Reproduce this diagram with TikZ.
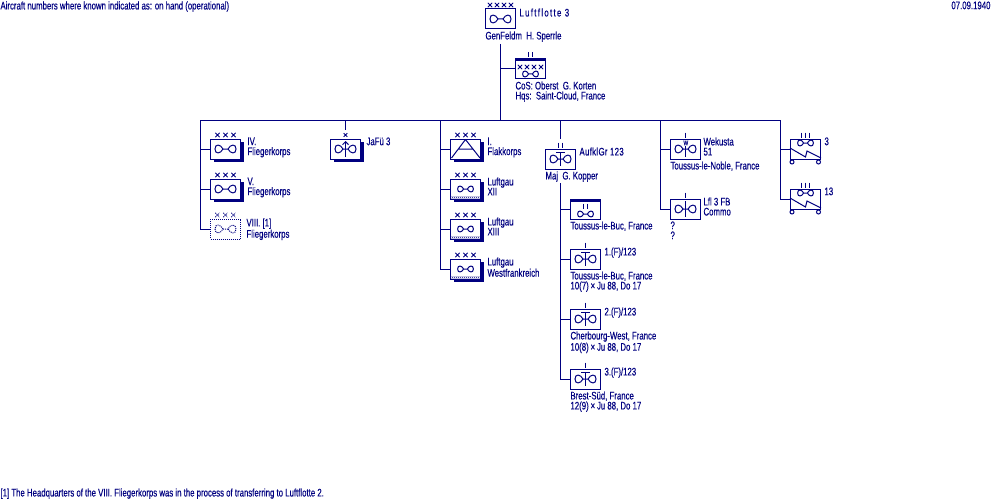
\documentclass[tikz,border=0pt]{standalone}
\usepackage{fontspec}
\setmainfont[FakeStretch=0.71,FakeBold=0.25]{Liberation Sans}
\usepackage{tikz}
\usetikzlibrary{shadows,patterns,arrows.meta}
\definecolor{unitink}{RGB}{0, 0, 128}
\pgfdeclarepatternformonly{checker}{\pgfpointorigin}{\pgfqpoint{2pt}{2pt}}{\pgfqpoint{2pt}{2pt}}{
  \pgfpathrectangle{\pgfpointorigin}{\pgfqpoint{1pt}{1pt}}
  \pgfpathrectangle{\pgfqpoint{1pt}{1pt}}{\pgfqpoint{1pt}{1pt}}
  \pgfusepath{fill}
}
\tikzset{
  unitbox/.style={draw, fill=white, line width=1pt, minimum width=30pt, minimum height=20pt, inner sep=0pt},
  shadebox/.style={unitbox, drop shadow={shadow xshift=3pt, shadow yshift=-3pt, fill=unitink, opacity=1}},
  ghostbox/.style={unitbox, densely dotted},
  lbl/.style={anchor=north west, inner sep=0pt, align=left, font=\fontsize{11}{10}\selectfont},
  pics/wing/.style={code={
    \draw (-2.5,0) .. controls (-5,-5) and (-10.5,-5.5) .. (-10.5,0) .. controls (-10.5,5.5) and (-5,5) .. (-2.5,0) -- (2.5,0)
      .. controls (5,-5) and (10.5,-5.5) .. (10.5,0) .. controls (10.5,5.5) and (5,5) .. (2.5,0);
  }},
  pics/crosses/.style={code={
    \foreach \i in {1,...,#1} {
      \pgfmathsetmacro\xx{(\i-(#1+1)/2)*(#1==4?7:8)}
      \draw[line width=.8pt] (\xx-2.2,-2.2) -- (\xx+2.2,2.2) (\xx-2.2,2.2) -- (\xx+2.2,-2.2);
    }
  }},
  pics/ticks/.style={code={
    \foreach \i in {1,...,#1} {
      \pgfmathsetmacro\xx{(\i-(#1+1)/2)*4}
      \draw (\xx,-2.5) -- (\xx,2.5);
    }
  }},
  pics/recon/.style={code={
    \draw (0,-6.5) -- (0,6.5) (-4.5,-6.5) -- (4.5,-6.5);
  }},
  pics/truck/.style={code={
    \draw (-15.5,-1) -- (0,8) -- (1.5,2) -- (15.5,9);
    \draw (-13.5,13) circle (2) (13,13) circle (2);
  }},
}
\begin{document}
\begin{tikzpicture}[x=1pt, y=-1pt, color=unitink, line width=1pt]
  \useasboundingbox (0,0) rectangle (1000,500);
  \node[lbl] (aircraftnote) at (0,1) {Aircraft numbers where known indicated as: on hand (operational)};
  \node[lbl, anchor=north east] (datenote) at (991,1) {07.09.1940};
  \node[lbl] (footnote) at (0,488) {[1] The Headquarters of the VIII. Fliegerkorps was in the process of transferring to Luftflotte 2.};

  % fleet and staff
  \node[unitbox] (fleet) at (500.5,19) {};
  \pic at (fleet) {wing};
  \pic at (500.5,5) {crosses=4};
  \node[lbl] (fleetlbl) at (519,8) {\addfontfeature{LetterSpace=12}Luftflotte 3};
  \node[lbl] (fleetcmd) at (485,31) {GenFeldm\ \ H. Sperrle};
  \node[unitbox] (staff) at (530.5,69) {};
  \fill ([yshift=-3pt]staff.north west) rectangle (staff.north east);
  \pic at (530.5,55) {ticks=2};
  \pic at (530.5,67) {crosses=4};
  \pic[scale=.75] at (530.5,74) {wing};
  \node[lbl] (stafflbl) at (515,81) {CoS: Oberst\ \ G. Korten\\Hqs:\ \ Saint-Cloud, France};

  % trunk and bus
  \coordinate (trunktop) at (500.5,44);
  \coordinate (trunkend) at (500.5,120);
  \coordinate (busleft) at (200.5,120);
  \coordinate (busjafu) at (345.5,120);
  \coordinate (busflak) at (440.5,120);
  \coordinate (busrecon) at (560.5,120);
  \coordinate (busweather) at (660.5,120);
  \coordinate (busright) at (780.5,120);
  \draw (trunktop) -- (trunkend);
  \draw (trunktop |- staff.west) -- (staff.west);
  \draw (busleft) -- (busright);

  % corps
  \foreach \n/\y/\t in {iv/149/IV., v/189/V.} {
    \node[shadebox] (\n) at (225.5,\y) {};
    \pic at (\n) {wing};
    \pic at (225.5,\y-14) {crosses=3};
    \node[lbl] (\n lbl) at (247,\y-12) {\t\\Fliegerkorps};
    \draw (busleft) |- (\n.west);
  }
  \node[ghostbox] (viii) at (225.5,229) {};
  \pic[densely dotted] at (viii) {wing};
  \pic[densely dotted] at (225.5,215) {crosses=3};
  \node[lbl] (viiilbl) at (246,218) {VIII. [1]\\Fliegerkorps};
  \draw (busleft) |- (viii.west);

  % fighter leader
  \node[shadebox] (jafu) at (345.5,149) {};
  \pic at (jafu) {wing};
  \draw[-{Straight Barb[length=3pt,width=6pt]}] (345.5,157) -- (345.5,141);
  \pic[scale=.8] at (345.5,135) {crosses=1};
  \node[lbl] (jafulbl) at (366,137) {JaFü 3};
  \coordinate (jafutop) at (345.5,130);
  \draw (busjafu) -- (jafutop);

  % flak and air districts
  \node[shadebox] (flak) at (465.5,149) {};
  \draw (flak.north) ++(0,1) -- (451.5,158) (flak.north) ++(0,1) -- (480,158) (458,149) -- (473,149);
  \pic at (465.5,135) {crosses=3};
  \node[lbl] (flaklbl) at (487,137) {I.\\Flakkorps};
  \draw (busflak) |- (flak.west);
  \foreach \n/\y/\t in {gaua/189/XII, gaub/229/XIII, gauc/269/Westfrankreich} {
    \node[shadebox] (\n) at (465.5,\y) {};
    \fill[pattern=checker, pattern color=unitink] ([yshift=3.5pt]\n.south west) rectangle (\n.south east);
    \pic[scale=.75] at (465.5,\y) {wing};
    \pic at (465.5,\y-14) {crosses=3};
    \node[lbl] (\n lbl) at (487,\y-12) {Luftgau\\\t};
    \draw (busflak) |- (\n.west);
  }

  % reconnaissance group
  \node[unitbox] (recon) at (560.5,159) {};
  \pic at (recon) {wing};
  \pic at (recon) {recon};
  \pic at (560.5,145) {ticks=2};
  \node[lbl] (reconlbl) at (579,147) {\addfontfeature{LetterSpace=3}AufklGr 123};
  \node[lbl] (reconcmd) at (545,171) {Maj\ \ G. Kopper};
  \coordinate (recontop) at (560.5,139);
  \coordinate (reconstem) at (560.5,183);
  \draw (busrecon) -- (recontop);
  \node[unitbox] (reconstaff) at (585.5,209) {};
  \fill ([yshift=-3pt]reconstaff.north west) rectangle (reconstaff.north east);
  \pic at (585.5,206) {ticks=2};
  \pic[scale=.75] at (585.5,214) {wing};
  \node[lbl] (reconstafflbl) at (570,221) {Toussus-le-Buc, France};
  \draw (reconstem) |- (reconstaff.west);
  \foreach \n/\y/\t/\p/\c in {sqa/259/1.(F)/Toussus-le-Buc/10(7), sqb/319/2.(F)/Cherbourg-West/10(8), sqc/379/3.(F)/Brest-Süd/12(9)} {
    \node[unitbox] (\n) at (585.5,\y) {};
    \pic at (\n) {wing};
    \pic at (\n) {recon};
    \pic at (585.5,\y-14) {ticks=1};
    \node[lbl] (\n lbl) at (604,\y-12) {\t/123};
    \node[lbl] (\n base) at (570,\y+12) {\p, France\\\c\,×\,Ju 88, Do 17};
    \draw (reconstem) |- (\n.west);
  }

  % weather and courier
  \node[unitbox] (weather) at (685.5,149) {};
  \pic at (weather) {wing};
  \draw (685.5,146) -- (685.5,157);
  \pic at (685.5,135) {ticks=1};
  \node[lbl, font=\fontsize{7}{7}\selectfont] (weathersign) at (683,140) {W};
  \node[lbl] (weatherlbl) at (703,137) {Wekusta\\51};
  \node[lbl] (weatherbase) at (670,161) {Toussus-le-Noble, France};
  \draw (busweather) |- (weather.west);
  \node[unitbox] (courier) at (685.5,209) {};
  \pic at (courier) {wing};
  \draw (685.5,201) -- (685.5,217);
  \pic at (685.5,195) {ticks=1};
  \node[lbl] (courierlbl) at (703,197) {Lfl 3 FB\\Commo};
  \node[lbl] (courierbase) at (670,221) {?\\?};
  \draw (busweather) |- (courier.west);

  % signals
  \foreach \n/\y/\t in {siga/149/3, sigb/199/13} {
    \node[unitbox] (\n) at (805.5,\y) {};
    \pic at (\n) {truck};
    \pic[scale=.75] at (805.5,\y-6) {wing};
    \pic at (805.5,\y-14) {ticks=3};
    \node[lbl] (\n lbl) at (824,\y-12) {\t};
    \draw (busright) |- (\n.west);
  }
\end{tikzpicture}
\end{document}
